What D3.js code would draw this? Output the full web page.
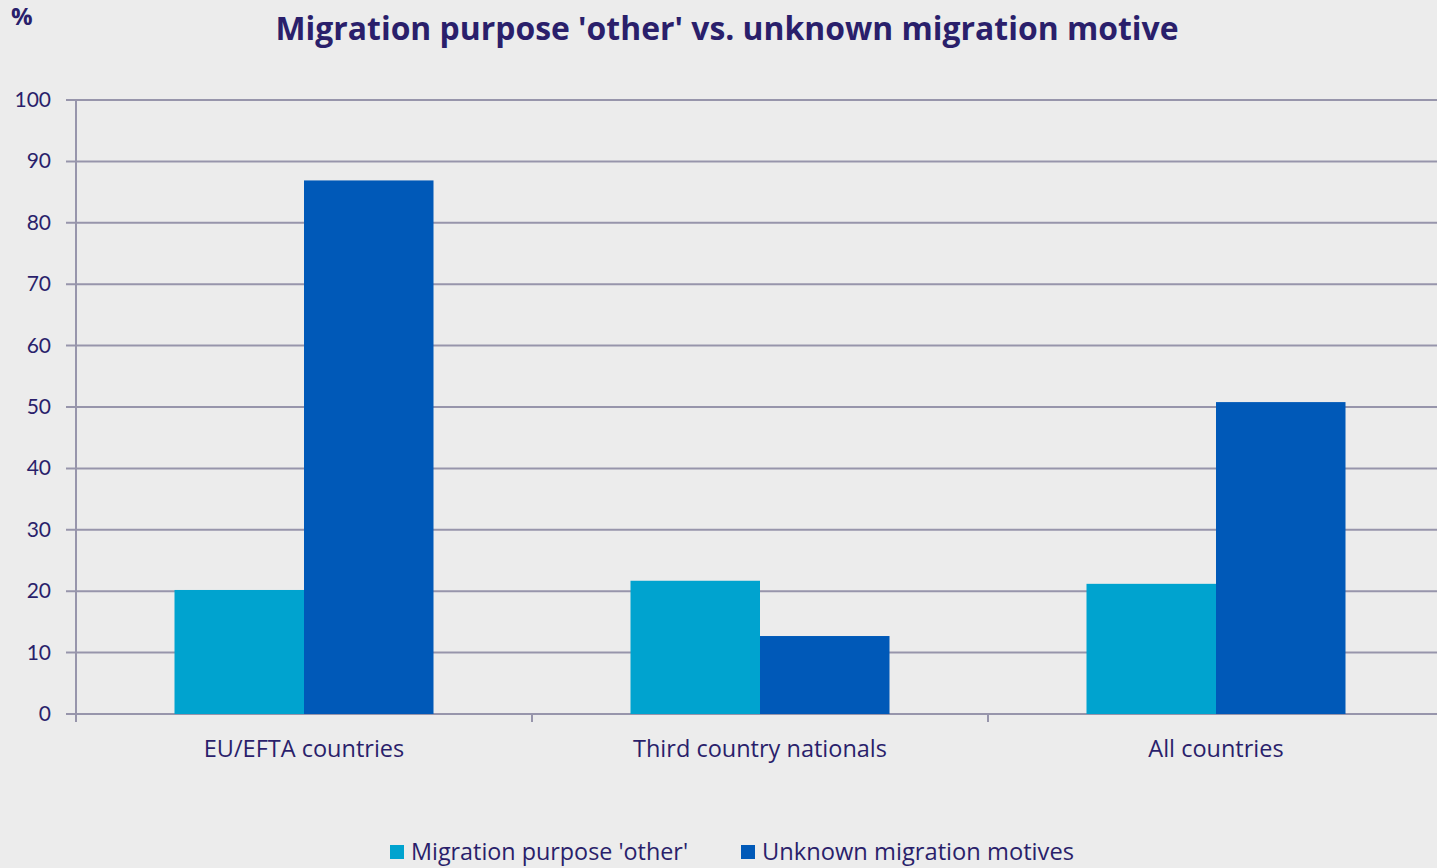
<!DOCTYPE html>
<html><head><meta charset="utf-8">
<script src="https://cdn.jsdelivr.net/npm/d3@7"></script>
<style>body{margin:0;background:#ececec;}svg{display:block;}</style>
</head><body>
<svg id="c" width="1437" height="868"></svg>
<script>
const categories = ["EU/EFTA countries", "Third country nationals", "All countries"];
const seriesNames = ["Migration purpose 'other'", "Unknown migration motives"];
const otherValues = [20.2, 21.7, 21.2];
const unknownValues = [86.9, 12.7, 50.8];
const yTicks = [0,10,20,30,40,50,60,70,80,90,100];
const colors = ["#00a3cf", "#0059b8"];
const textColor = "#2a1f6b";
const gridColor = "#9795ab";

(function(){
const svg = d3.select("#c");
svg.append("rect").attr("width",1437).attr("height",868).attr("fill","#ececec");

const pLeft = 76, pRight = 1444, pTop = 100, pBottom = 714;
const x = d3.scaleBand().domain(categories).range([pLeft, pRight]).paddingInner(0).paddingOuter(0);
const y = d3.scaleLinear().domain([0,100]).range([pBottom, pTop]);
const groupPad = 98.5;
const x1 = d3.scaleBand().domain(seriesNames).range([groupPad, x.bandwidth()-groupPad]);

// gridlines
svg.append("g").selectAll("line").data(yTicks).join("line")
  .attr("x1", pLeft-10).attr("x2", 1437)
  .attr("y1", d=>y(d)).attr("y2", d=>y(d))
  .attr("stroke", gridColor).attr("stroke-width", 2);

// y axis line
svg.append("line").attr("x1",pLeft).attr("x2",pLeft).attr("y1",pTop).attr("y2",pBottom+8)
  .attr("stroke",gridColor).attr("stroke-width",2);

// x ticks
svg.append("g").selectAll("line").data(categories.slice(1).map(c=>x(c)).concat([pRight]))
  .join("line").attr("x1",d=>d).attr("x2",d=>d).attr("y1",pBottom).attr("y2",pBottom+8)
  .attr("stroke",gridColor).attr("stroke-width",2);

// y labels
svg.append("g").selectAll("text").data(yTicks).join("text")
  .attr("x", 51).attr("y", d=>y(d)+7).attr("text-anchor","end")
  .attr("font-family","Lato, sans-serif").attr("font-size",21).attr("fill",textColor)
  .text(d=>d);

// bars
const data = categories.map((c,i)=>({cat:c, vals:[otherValues[i], unknownValues[i]]}));
const g = svg.append("g").selectAll("g").data(data).join("g")
  .attr("transform", d=>`translate(${x(d.cat)},0)`);
g.selectAll("rect").data(d=>d.vals.map((v,j)=>({s:seriesNames[j], v, j})))
  .join("rect")
  .attr("x", d=>x1(d.s)).attr("width", x1.bandwidth())
  .attr("y", d=>y(d.v)).attr("height", d=>y(0)-y(d.v))
  .attr("fill", d=>colors[d.j]);

// category labels
svg.append("g").selectAll("text").data(categories).join("text")
  .attr("x", d=>x(d)+x.bandwidth()/2).attr("y", 757).attr("text-anchor","middle")
  .attr("font-family","'Open Sans', sans-serif").attr("font-size",23.5).attr("fill",textColor)
  .text(d=>d);

// title
svg.append("text").attr("x",727).attr("y",40).attr("text-anchor","middle")
  .attr("font-family","'Open Sans', sans-serif").attr("font-weight","bold").attr("font-size",32)
  .attr("fill",textColor).attr("textLength",903).attr("lengthAdjust","spacingAndGlyphs")
  .text("Migration purpose 'other' vs. unknown migration motive");

// % label
svg.append("text").attr("x",11).attr("y",25)
  .attr("font-family","'Open Sans', sans-serif").attr("font-weight","bold").attr("font-size",24)
  .attr("fill",textColor).text("%");

// legend
const legendX = [390, 741];
const legendW = [277, 312];
const lg = svg.append("g").selectAll("g").data(seriesNames).join("g")
  .attr("transform",(d,i)=>`translate(${legendX[i]},0)`);
lg.append("rect").attr("x",0).attr("y",845).attr("width",14).attr("height",14)
  .attr("fill",(d,i)=>colors[i]);
lg.append("text").attr("x",21).attr("y",860)
  .attr("font-family","'Open Sans', sans-serif").attr("font-size",24).attr("fill",textColor)
  .attr("textLength",(d,i)=>legendW[i]).attr("lengthAdjust","spacingAndGlyphs")
  .text(d=>d);
})();
</script>
</body></html>
